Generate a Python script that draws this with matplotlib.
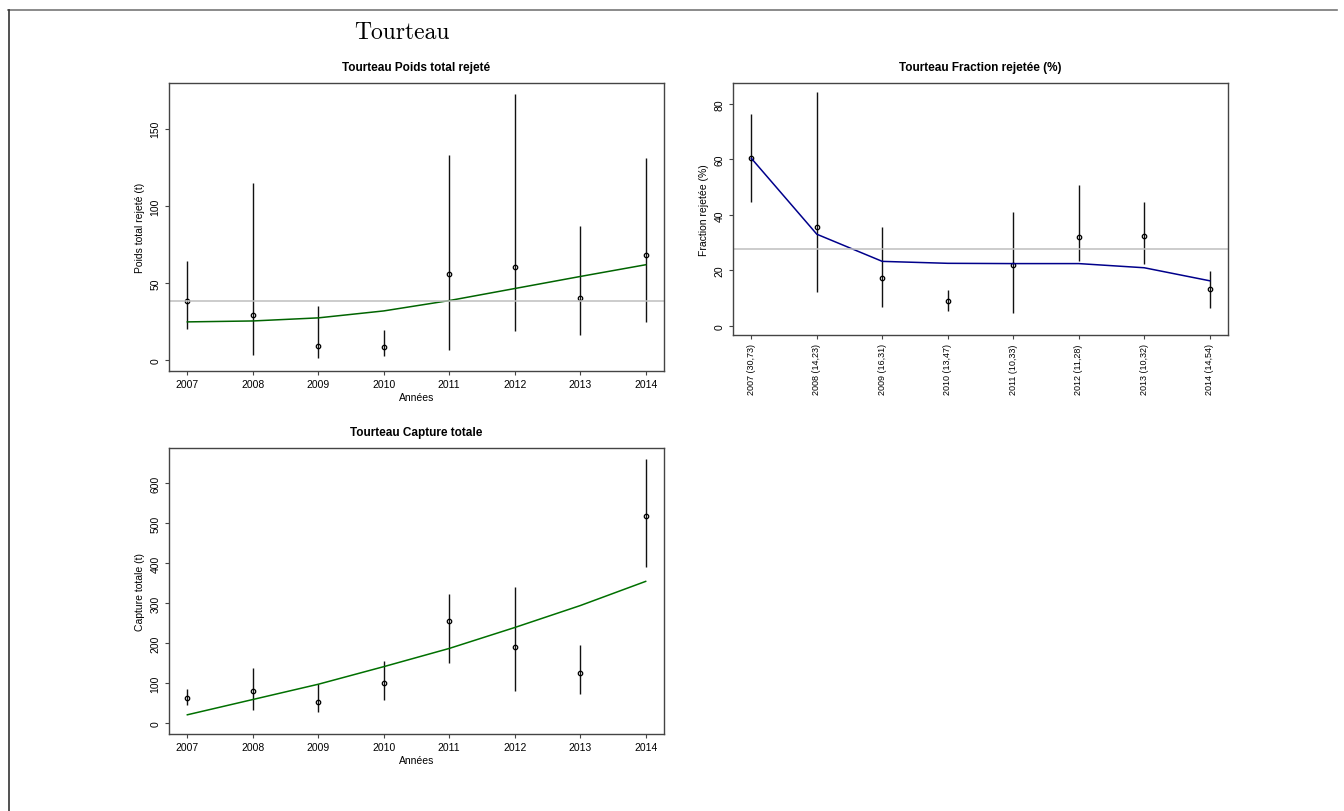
import matplotlib
matplotlib.use('Agg')
from matplotlib import pyplot as plt
from matplotlib.lines import Line2D

plt.rcParams['font.family'] = ['Liberation Sans', 'DejaVu Sans']

years = [2007, 2008, 2009, 2010, 2011, 2012, 2013, 2014]
frac_labels = ['2007 (30,73)', '2008 (14,23)', '2009 (16,31)', '2010 (13,47)',
               '2011 (10,33)', '2012 (11,28)', '2013 (10,32)', '2014 (14,54)']

# poids total rejete (t)
rej_est = [38.5, 29.2, 9.1, 8.4, 55.8, 60.6, 40.5, 68.4]
rej_low = [20.0, 3.7, 1.5, 3.0, 6.7, 19.0, 16.2, 25.1]
rej_up = [64.5, 115.0, 35.3, 19.5, 133.0, 172.7, 87.2, 131.0]
rej_fit = [24.9, 25.5, 27.5, 32.0, 38.7, 46.5, 54.3, 61.9]
rej_mean = 38.7

# fraction rejetee (%)
frac_est = [60.4, 35.6, 17.2, 8.8, 21.9, 31.9, 32.4, 13.4]
frac_low = [44.8, 12.3, 6.7, 5.4, 4.7, 23.3, 22.1, 6.5]
frac_up = [76.4, 84.2, 35.7, 12.8, 41.1, 50.8, 44.8, 19.8]
frac_fit = [60.4, 33.0, 23.2, 22.5, 22.4, 22.4, 20.9, 16.2]
frac_mean = 27.7

# capture totale (t)
cap_est = [64.6, 82.0, 53.8, 100.2, 256.6, 190.4, 125.0, 518.2]
cap_low = [46.4, 32.3, 27.3, 58.8, 149.8, 81.1, 73.7, 389.9]
cap_up = [85.3, 137.4, 98.5, 154.8, 323.7, 340.2, 196.2, 660.6]
cap_fit = [21.5, 59.6, 97.7, 141.6, 187.0, 239.2, 293.9, 354.3]


def r_lim(lo, hi):
    ext = (hi - lo) * 0.04
    return lo - ext, hi + ext


def style_axes(ax):
    for s in ax.spines.values():
        s.set_color('#444444')
        s.set_linewidth(1.0)
    ax.tick_params(direction='out', length=3, width=0.8, color='#444444',
                   labelsize=7.5, pad=3)
    for lab in ax.get_yticklabels():
        lab.set_rotation(90)
        lab.set_va('center')


def draw_panel(ax, est, low, up, fit, fit_col, mean, title, ylab, ylim, yticks):
    ax.vlines(years, low, up, color='#111111', linewidth=1.0)
    ax.plot(years, est, 'o', ms=3.2, mfc='none', mec='black', mew=0.9)
    ax.plot(years, fit, color=fit_col, linewidth=1.1)
    if mean is not None:
        ax.axhline(mean, color='#BEBEBE', linewidth=1.1)
    ax.set_xlim(r_lim(2007, 2014))
    ax.set_ylim(ylim)
    ax.set_yticks(yticks)
    ax.set_xticks(years)
    ax.set_title(title, fontsize=8.5, fontweight='bold', pad=9)
    ax.set_ylabel(ylab, fontsize=7.5, labelpad=4)


fig = plt.figure(figsize=(13.44, 8.12), dpi=100)

# page frame (top and left edges)
fig.add_artist(Line2D([0.006, 0.995], [0.987, 0.987], color='#777777', lw=1.2))
fig.add_artist(Line2D([0.0065, 0.0065], [0.0, 0.987], color='#333333', lw=1.2))

fig.text(402 / 1344, 1 - 33 / 812, 'Tourteau', family='cmr10', fontsize=17,
         ha='center', va='center')

ax1 = fig.add_axes([169 / 1344, 1 - 372 / 812, 495 / 1344, 288 / 812])
draw_panel(ax1, rej_est, rej_low, rej_up, rej_fit, '#006400', rej_mean,
           'Tourteau Poids total rejeté', 'Poids total rejeté (t)',
           r_lim(0, max(rej_up)), [0, 50, 100, 150])
ax1.set_xticklabels([str(y) for y in years])
ax1.set_xlabel('Années', fontsize=7.5, labelpad=2)
style_axes(ax1)

ax2 = fig.add_axes([733 / 1344, 1 - 336 / 812, 495 / 1344, 252 / 812])
draw_panel(ax2, frac_est, frac_low, frac_up, frac_fit, '#00008B', frac_mean,
           'Tourteau Fraction rejetée (%)', 'Fraction rejetée (%)',
           r_lim(0, max(frac_up)), [0, 20, 40, 60, 80])
ax2.set_xticklabels(frac_labels, rotation=90, fontsize=6.5)
style_axes(ax2)
ax2.tick_params(axis='x', labelsize=6.5)

ax3 = fig.add_axes([169 / 1344, 1 - 735 / 812, 495 / 1344, 286 / 812])
draw_panel(ax3, cap_est, cap_low, cap_up, cap_fit, '#007000', None,
           'Tourteau Capture totale', 'Capture totale (t)',
           r_lim(0, max(cap_up)), [0, 100, 200, 300, 400, 500, 600])
ax3.set_xticklabels([str(y) for y in years])
ax3.set_xlabel('Années', fontsize=7.5, labelpad=2)
style_axes(ax3)

plt.savefig('out.png', dpi=100)
